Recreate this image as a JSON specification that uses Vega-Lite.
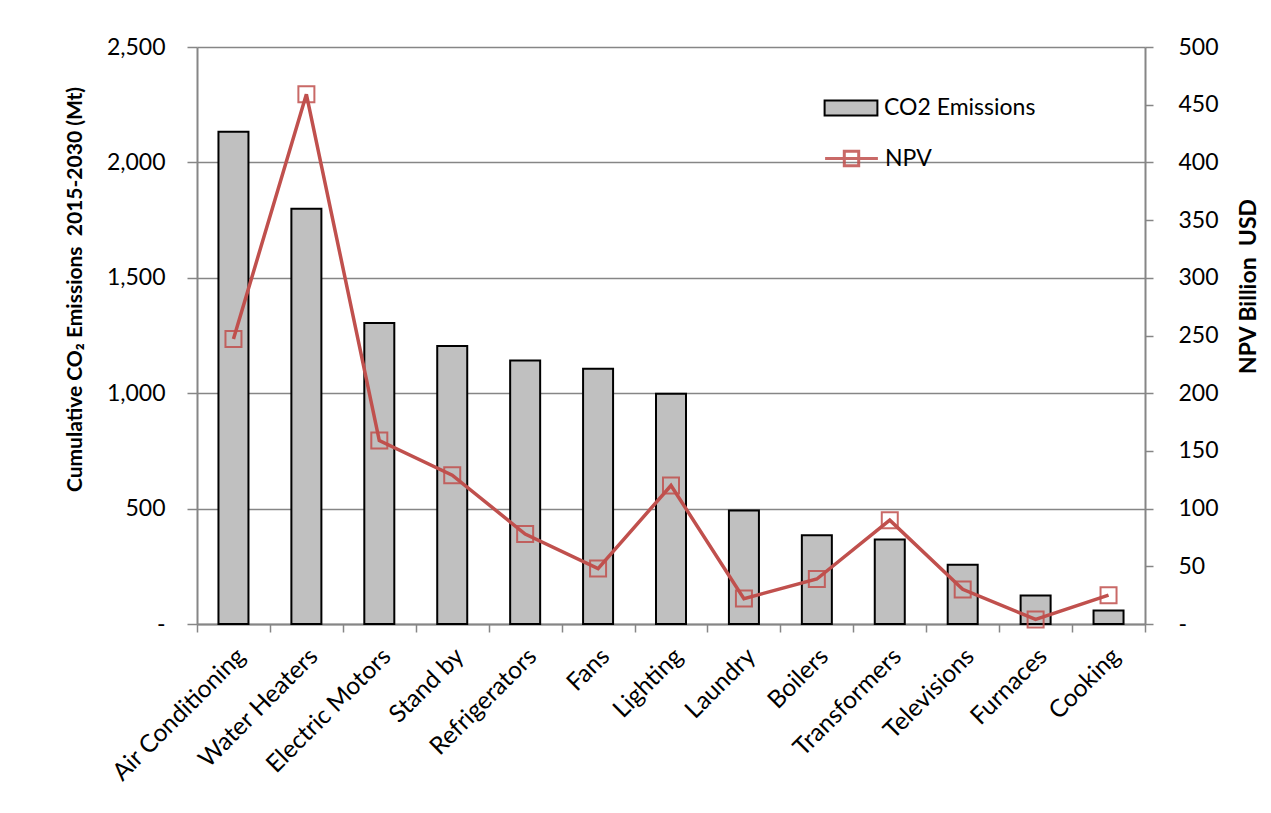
{
  "$schema": "https://vega.github.io/schema/vega-lite/v6.json",
  "width": 948,
  "height": 577,
  "autosize": {"type": "none"},
  "padding": {"left": 197, "top": 47, "right": 126, "bottom": 189},
  "config": {
    "view": {"stroke": null},
    "font": "Lato",
    "axis": {
      "labelFont": "Lato",
      "titleFont": "Lato",
      "labelColor": "#000000",
      "titleColor": "#000000",
      "domainColor": "#868686",
      "domainWidth": 2,
      "tickColor": "#868686",
      "tickWidth": 1.5
    },
    "legend": {
      "labelFont": "Lato",
      "labelFontSize": 23,
      "labelColor": "#000000",
      "labelOffset": 8,
      "padding": 0,
      "rowPadding": 0,
      "symbolSize": 2304
    }
  },
  "data": {
    "values": [
      {"category": "Air Conditioning", "co2": 2133, "npv": 247},
      {"category": "Water Heaters", "co2": 1799, "npv": 459},
      {"category": "Electric Motors", "co2": 1304, "npv": 159},
      {"category": "Stand by", "co2": 1205, "npv": 129},
      {"category": "Refrigerators", "co2": 1142, "npv": 78},
      {"category": "Fans", "co2": 1106, "npv": 48},
      {"category": "Lighting", "co2": 998, "npv": 120},
      {"category": "Laundry", "co2": 492, "npv": 22},
      {"category": "Boilers", "co2": 384, "npv": 39},
      {"category": "Transformers", "co2": 366, "npv": 90},
      {"category": "Televisions", "co2": 257, "npv": 30},
      {"category": "Furnaces", "co2": 124, "npv": 4},
      {"category": "Cooking", "co2": 58, "npv": 25}
    ]
  },
  "encoding": {
    "x": {
      "field": "category",
      "type": "nominal",
      "sort": null,
      "title": null,
      "scale": {"paddingInner": 0, "paddingOuter": 0},
      "axis": {
        "labelAngle": -45,
        "labelAlign": "right",
        "labelBaseline": "top",
        "labelFontSize": 24.5,
        "labelPadding": 12,
        "labelOffset": -1,
        "tickBand": "extent",
        "tickSize": 8,
        "grid": false
      }
    }
  },
  "layer": [
    {
      "mark": {"type": "bar", "stroke": "#000000", "strokeWidth": 2, "width": 30},
      "encoding": {
        "y": {
          "field": "co2",
          "type": "quantitative",
          "scale": {"domain": [0, 2500]},
          "title": "Cumulative CO₂ Emissions\u00a0 2015-2030 (Mt)",
          "axis": {
            "values": [0, 500, 1000, 1500, 2000, 2500],
            "labelExpr": "datum.value === 0 ? '-\u00a0\u00a0\u00a0' : format(datum.value, ',')",
            "labelFontSize": 23,
            "labelPadding": 22,
            "tickSize": 10,
            "grid": true,
            "gridColor": "#868686",
            "gridWidth": 1.3,
            "titleFontSize": 21,
            "titleFontWeight": "bold",
            "titleAngle": -90,
            "titleAlign": "center",
            "titleBaseline": "middle",
            "titleX": -122,
            "titleY": 242
          }
        },
        "fill": {
          "datum": "CO2 Emissions",
          "scale": {"domain": ["CO2 Emissions"], "range": ["#C0C0C0"]},
          "legend": {
            "title": null,
            "orient": "none",
            "legendX": 629,
            "legendY": 36,
            "symbolType": "M-1.1,-0.31H1.1V0.31H-1.1Z",
            "symbolStrokeColor": "#000000",
            "symbolStrokeWidth": 2
          }
        }
      }
    },
    {
      "mark": {
        "type": "line",
        "strokeWidth": 3.5,
        "point": {"shape": "square", "filled": false, "size": 256, "strokeWidth": 2, "opacity": 0.85}
      },
      "encoding": {
        "y": {
          "field": "npv",
          "type": "quantitative",
          "scale": {"domain": [0, 500]},
          "title": "NPV Billion\u00a0 USD",
          "axis": {
            "orient": "right",
            "values": [0, 50, 100, 150, 200, 250, 300, 350, 400, 450, 500],
            "labelExpr": "datum.value === 0 ? '-' : format(datum.value, ',')",
            "labelFontSize": 23,
            "labelPadding": 25,
            "tickSize": 8,
            "grid": false,
            "titleFontSize": 23,
            "titleFontWeight": "bold",
            "titleAngle": -90,
            "titleAlign": "center",
            "titleBaseline": "middle",
            "titleX": 103,
            "titleY": 239
          }
        },
        "stroke": {
          "datum": "NPV",
          "scale": {"domain": ["NPV"], "range": ["#C0504D"]},
          "legend": {
            "title": null,
            "orient": "none",
            "legendX": 629,
            "legendY": 86,
            "symbolType": "M-1.1,0H1.1M-0.3,-0.3H0.3V0.3H-0.3Z",
            "symbolFillColor": "transparent",
            "symbolStrokeWidth": 3
          }
        }
      }
    }
  ],
  "resolve": {"scale": {"y": "independent"}}
}
